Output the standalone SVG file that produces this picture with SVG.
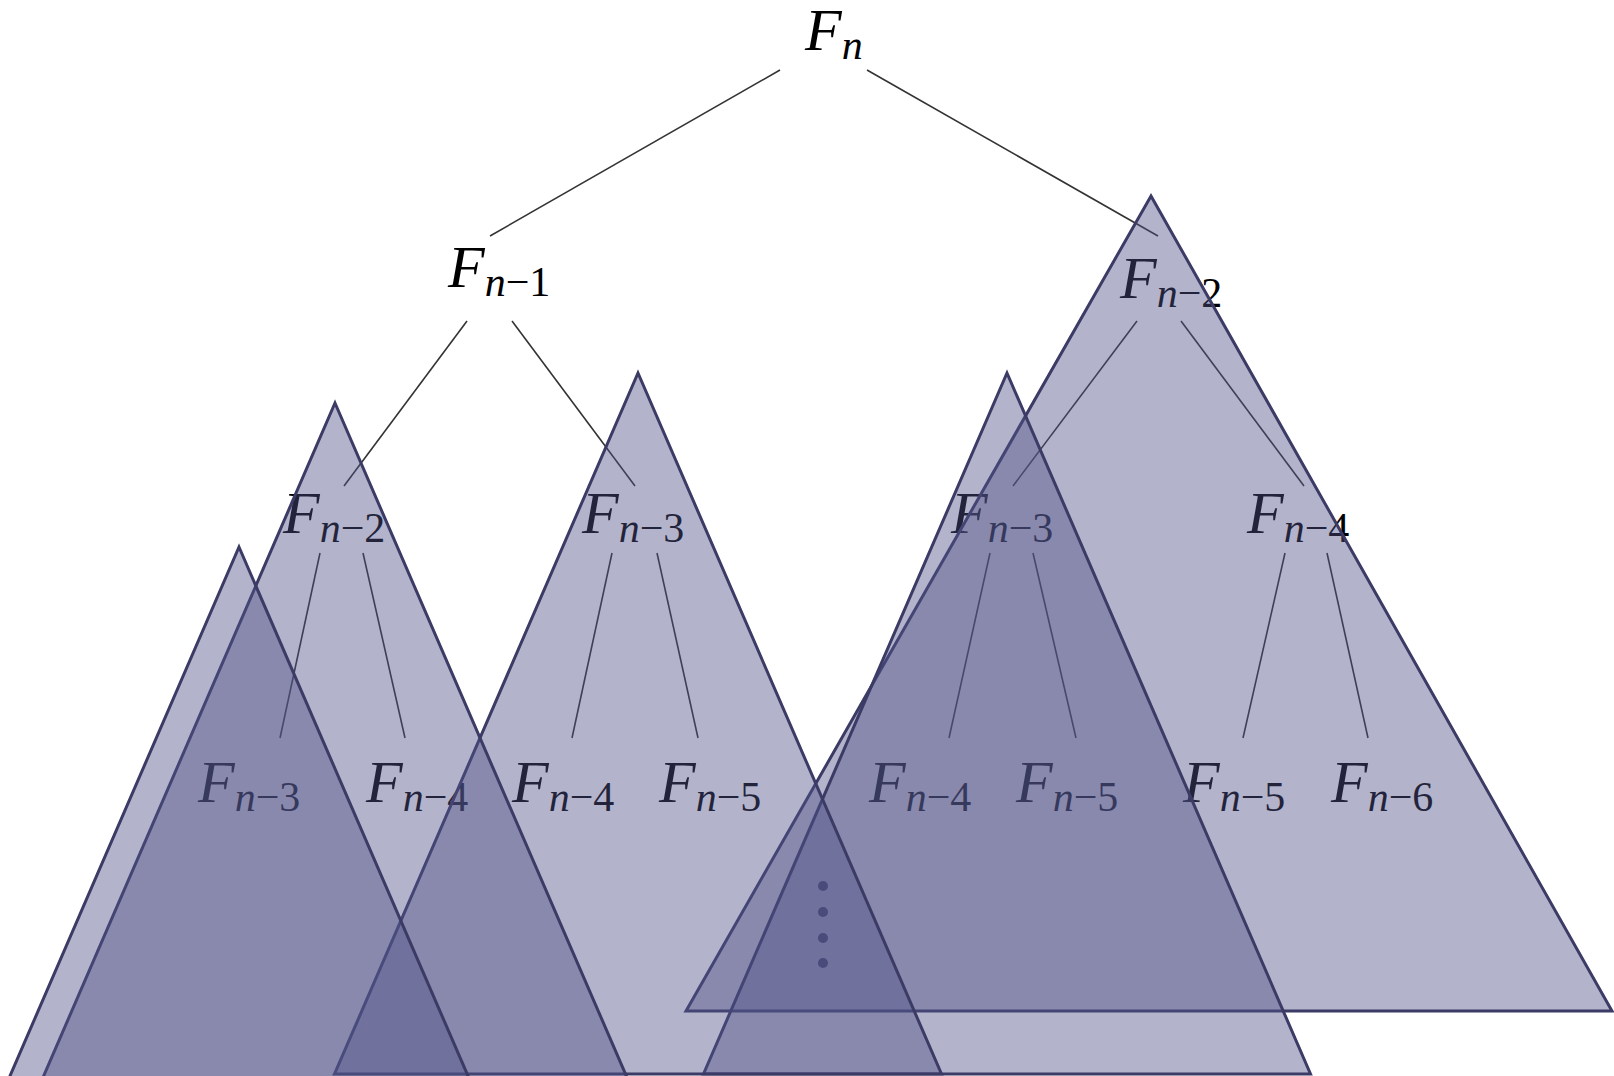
<svg xmlns="http://www.w3.org/2000/svg" width="1614" height="1076" viewBox="0 0 1614 1076">
<style>
.lbl{font-family:"Liberation Serif","DejaVu Serif",serif;font-size:60px;fill:#000;font-style:italic}
.sub{font-size:42px}
.up{font-style:normal}
.edge{stroke:#333;stroke-width:1.6;fill:none}
.tri{fill:rgb(80,82,135);fill-opacity:0.434;stroke:#3b3b66;stroke-width:3;stroke-linejoin:miter}
.dot{fill:#4a4b7b}
</style>
<rect width="1614" height="1076" fill="#fff"/>
<g id="connectors">
<line class="edge" x1="780" y1="70" x2="490" y2="236"/>
<line class="edge" x1="867" y1="70" x2="1158" y2="236"/>
<line class="edge" x1="467" y1="321" x2="344" y2="486"/>
<line class="edge" x1="512" y1="321" x2="635" y2="486"/>
<line class="edge" x1="1137" y1="321" x2="1013" y2="486"/>
<line class="edge" x1="1181" y1="321" x2="1304" y2="486"/>
<line class="edge" x1="320" y1="553" x2="280" y2="738"/>
<line class="edge" x1="363" y1="553" x2="405" y2="738"/>
<line class="edge" x1="612" y1="553" x2="572" y2="738"/>
<line class="edge" x1="657" y1="553" x2="698" y2="738"/>
<line class="edge" x1="990" y1="553" x2="949" y2="738"/>
<line class="edge" x1="1033" y1="553" x2="1076" y2="738"/>
<line class="edge" x1="1285" y1="553" x2="1243" y2="738"/>
<line class="edge" x1="1327" y1="553" x2="1368" y2="738"/>
</g>
<g id="n0"><text class="lbl" x="805" y="50">F<tspan class="sub" dy="9">n</tspan></text></g>
<g id="n1"><text class="lbl" x="448" y="287">F<tspan class="sub" dy="9">n</tspan><tspan class="sub up">−1</tspan></text></g>
<g id="n2"><text class="lbl" x="1120" y="298">F<tspan class="sub" dy="9">n</tspan><tspan class="sub up">−2</tspan></text></g>
<g id="n3"><text class="lbl" x="283" y="533">F<tspan class="sub" dy="9">n</tspan><tspan class="sub up">−2</tspan></text></g>
<g id="n4"><text class="lbl" x="582" y="533">F<tspan class="sub" dy="9">n</tspan><tspan class="sub up">−3</tspan></text></g>
<g id="n5"><text class="lbl" x="951" y="533">F<tspan class="sub" dy="9">n</tspan><tspan class="sub up">−3</tspan></text></g>
<g id="n6"><text class="lbl" x="1247" y="533">F<tspan class="sub" dy="9">n</tspan><tspan class="sub up">−4</tspan></text></g>
<g id="n7"><text class="lbl" x="198" y="802">F<tspan class="sub" dy="9">n</tspan><tspan class="sub up">−3</tspan></text></g>
<g id="n8"><text class="lbl" x="366" y="802">F<tspan class="sub" dy="9">n</tspan><tspan class="sub up">−4</tspan></text></g>
<g id="n9"><text class="lbl" x="512" y="802">F<tspan class="sub" dy="9">n</tspan><tspan class="sub up">−4</tspan></text></g>
<g id="n10"><text class="lbl" x="659" y="802">F<tspan class="sub" dy="9">n</tspan><tspan class="sub up">−5</tspan></text></g>
<g id="n11"><text class="lbl" x="869" y="802">F<tspan class="sub" dy="9">n</tspan><tspan class="sub up">−4</tspan></text></g>
<g id="n12"><text class="lbl" x="1016" y="802">F<tspan class="sub" dy="9">n</tspan><tspan class="sub up">−5</tspan></text></g>
<g id="n13"><text class="lbl" x="1183" y="802">F<tspan class="sub" dy="9">n</tspan><tspan class="sub up">−5</tspan></text></g>
<g id="n14"><text class="lbl" x="1331" y="802">F<tspan class="sub" dy="9">n</tspan><tspan class="sub up">−6</tspan></text></g>
<g id="triangles">
<polygon class="tri" points="1151,196 1612,1011 686,1011"/>
<polygon class="tri" points="1007,373 1310.5,1074 703.5,1074"/>
<polygon class="tri" points="638,373 941.5,1074 334.5,1074"/>
<polygon class="tri" points="335,403 638.5,1104 31.5,1104"/>
<polygon class="tri" points="239,547 542.5,1248 -64.5,1248"/>
</g>
<g id="dots">
<circle class="dot" cx="823" cy="886" r="5"/>
<circle class="dot" cx="823" cy="912" r="5"/>
<circle class="dot" cx="823" cy="938" r="5"/>
<circle class="dot" cx="823" cy="963" r="5"/>
</g>
</svg>
